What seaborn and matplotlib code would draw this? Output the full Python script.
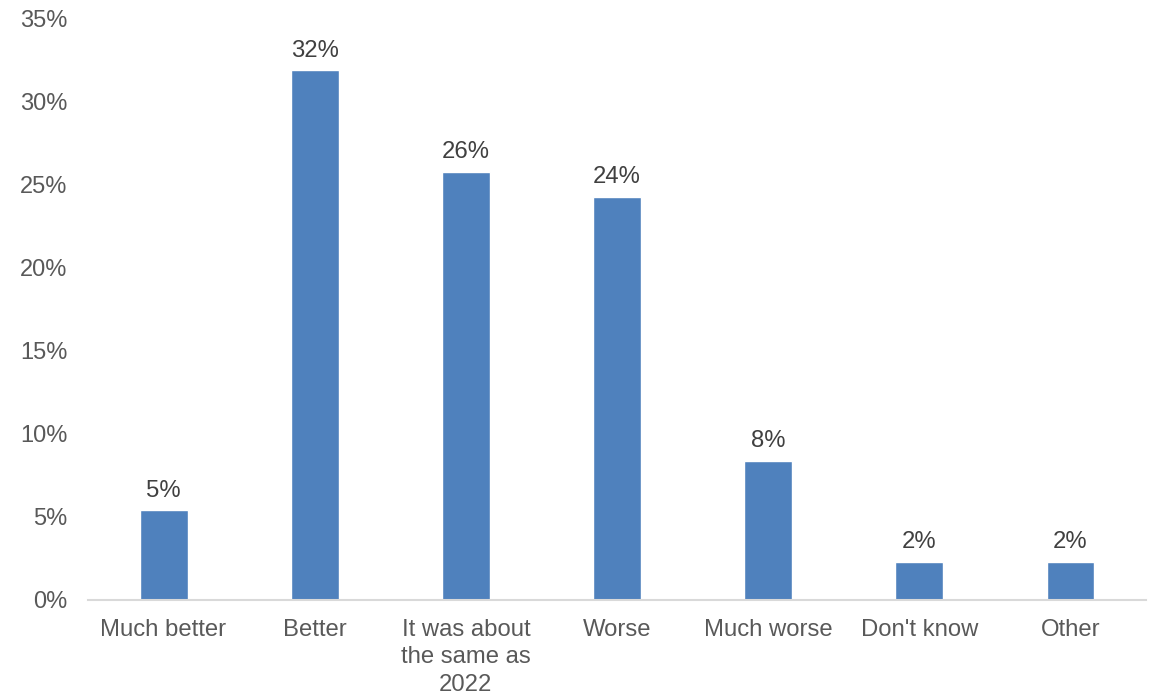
import matplotlib
matplotlib.use("Agg")
import matplotlib.pyplot as plt
import seaborn as sns
import pandas as pd

categories = ["Much better", "Better", "It was about\nthe same as\n2022", "Worse",
              "Much worse", "Don't know", "Other"]
shares = [5.4, 31.9, 25.8, 24.3, 8.4, 2.3, 2.3]
y_ticks = [0, 5, 10, 15, 20, 25, 30, 35]

sns.set_theme(style="white")
plt.rcParams["font.family"] = ["Liberation Sans", "DejaVu Sans"]

df = pd.DataFrame({"category": categories, "share": shares})

fig = plt.figure(figsize=(11.53, 6.95), dpi=100)
ax = fig.add_axes([0.0763, 0.1367, 0.9177, 0.836])

sns.barplot(data=df, x="category", y="share", color="#4F81BD", saturation=1,
            width=0.317, ax=ax)

for bar, v in zip(ax.patches, shares):
    ax.annotate(f"{round(v):.0f}%", (bar.get_x() + bar.get_width() / 2, bar.get_height()),
                xytext=(0, 6), textcoords="offset points", ha="center", va="bottom",
                fontsize=17.2, color="#404040")

ax.set_xlim(-0.5, len(categories) - 0.5)
ax.set_ylim(0, 35)
ax.set_yticks(y_ticks)
ax.set_yticklabels([f"{t}%" for t in y_ticks])
ax.set_xlabel("")
ax.set_ylabel("")
ax.tick_params(axis="y", length=0, pad=15, labelsize=17, labelcolor="#595959")
ax.tick_params(axis="x", length=0, pad=13.5, labelsize=17.2, labelcolor="#595959")
for lbl in ax.get_xticklabels():
    lbl.set_linespacing(1.32)

for side in ["left", "right", "top"]:
    ax.spines[side].set_visible(False)
ax.spines["bottom"].set_color("#D9D9D9")
ax.spines["bottom"].set_linewidth(1.5)
ax.grid(False)

fig.savefig("out.png", dpi=100, facecolor="white")
